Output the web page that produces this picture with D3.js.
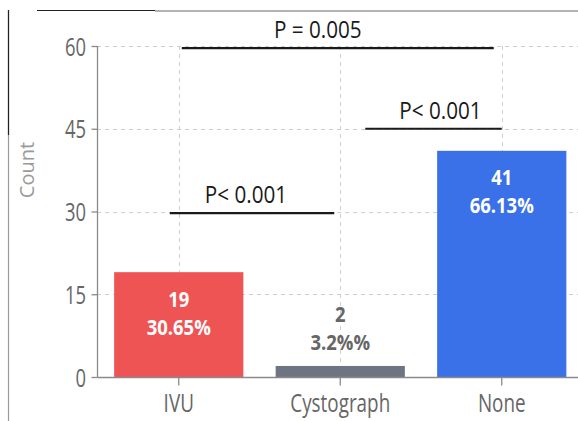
<!DOCTYPE html>
<html>
<head>
<meta charset="utf-8">
<script src="https://cdn.jsdelivr.net/npm/d3@7"></script>
<style>
  body { margin: 0; background: #fff; }
  svg { display: block; font-family: "Open Sans", sans-serif; }
</style>
</head>
<body>
<svg id="chart" width="578" height="421"></svg>
<script>
// data
const categories = ['IVU', 'Cystograph', 'None'];
const counts = [19, 2, 41];
const percents = ['30.65%', '3.2%%', '66.13%'];
const barColors = ['#ef5455', '#6e7482', '#3a70e8'];
const yTicks = [0, 15, 30, 45, 60];

// significance brackets: from category, to category, level, label
const brackets = [
    { from: 'IVU', to: 'Cystograph', level: 29.7, label: 'P< 0.001', dx0: -9, dx1: -6, tx: -6 },
    { from: 'Cystograph', to: 'None', level: 45, label: 'P< 0.001', dx0: 25, dx1: 0, tx: 7 },
    { from: 'IVU', to: 'None', level: 59.6, label: 'P = 0.005', dx0: 3, dx1: -8, tx: -20 }
];

const svg = d3.select('#chart');
const W = 578;

const x = d3.scaleBand().domain(categories).range([98, 582.5])
    .paddingInner(0.2).paddingOuter(0.1);
const y = d3.scaleLinear().domain([0, 60]).range([377, 46]);
const cx = d => x(d) + x.bandwidth() / 2;

// squished text, like the original screenshot
function label(g, txt, px, py, size, sx, opts) {
    opts = opts || {};
    return g.append('text')
        .attr('transform', `translate(${px},${py}) scale(${sx},${opts.sy || 1})`)
        .attr('text-anchor', opts.anchor || 'middle')
        .attr('dominant-baseline', 'central')
        .attr('font-size', size)
        .attr('font-weight', opts.weight || 'normal')
        .attr('fill', opts.fill || '#666')
        .text(txt);
}

// screenshot frame
svg.append('line').attr('x1', 8.5).attr('x2', 8.5).attr('y1', 10).attr('y2', 421)
    .attr('stroke', '#999').attr('stroke-width', 1.2);
svg.append('line').attr('x1', 8.5).attr('x2', 8.5).attr('y1', 10).attr('y2', 135)
    .attr('stroke', '#222').attr('stroke-width', 1.2);
svg.append('line').attr('x1', 155).attr('x2', W).attr('y1', 11).attr('y2', 11)
    .attr('stroke', '#999').attr('stroke-width', 1.5);
svg.append('line').attr('x1', 37).attr('x2', 155).attr('y1', 10.5).attr('y2', 10.5)
    .attr('stroke', '#222').attr('stroke-width', 1.2);

// grid
const grid = svg.append('g');
grid.selectAll('.hg').data(yTicks.filter(d => d > 0)).enter().append('line')
    .attr('x1', 97).attr('x2', W)
    .attr('y1', d => Math.round(y(d)) + 0.5).attr('y2', d => Math.round(y(d)) + 0.5)
    .attr('stroke', '#cfcfcf').attr('stroke-dasharray', '4,4');
grid.selectAll('.vg').data(categories).enter().append('line')
    .attr('x1', d => Math.round(cx(d)) + 0.5).attr('x2', d => Math.round(cx(d)) + 0.5)
    .attr('y1', y(60)).attr('y2', y(0))
    .attr('stroke', '#cfcfcf').attr('stroke-dasharray', '4,4');

// bars
svg.selectAll('.bar').data(categories).enter().append('rect')
    .attr('x', d => x(d))
    .attr('width', x.bandwidth())
    .attr('y', (d, i) => y(counts[i]))
    .attr('height', (d, i) => y(0) - y(counts[i]))
    .attr('fill', (d, i) => barColors[i]);

// axes
const yAxis = svg.append('g').attr('transform', 'translate(97.5,0)')
    .call(d3.axisLeft(y).tickValues(yTicks).tickSize(6).tickFormat(''));
const xAxis = svg.append('g').attr('transform', 'translate(0,377.5)')
    .call(d3.axisBottom(x).tickSize(8).tickFormat(''));
[yAxis, xAxis].forEach(a => {
    a.selectAll('line').attr('stroke', '#8a8a8a').attr('stroke-width', 1.3);
    a.select('.domain').attr('stroke', '#8a8a8a').attr('stroke-width', 1.3);
});
xAxis.select('.domain').attr('d', `M97.5,0H${W}`);
yAxis.select('.domain').attr('d', `M0,${y(60)}V${y(0)}`);

yTicks.forEach(t => label(svg, t, 86, y(t), 23, 0.8, { anchor: 'end', sy: 1.08 }));
categories.forEach(c => label(svg, c, cx(c), 402, 23, 0.82, { sy: 1.08 }));

// y title
svg.append('text')
    .attr('transform', 'translate(26,170) rotate(-90)')
    .attr('text-anchor', 'middle').attr('dominant-baseline', 'central')
    .attr('font-size', 20).attr('fill', '#9a9a9a')
    .text('Count');

// value labels
categories.forEach((c, i) => {
    const top = y(counts[i]);
    const inside = (y(0) - top) > 60;
    const col = inside ? '#fff' : '#666';
    const y0 = inside ? top + 26 : top - 53;
    label(svg, counts[i], cx(c), y0, 22, 0.84, { weight: 'bold', fill: col });
    label(svg, percents[i], cx(c), y0 + 28, 22, 0.84, { weight: 'bold', fill: col });
});

// brackets
brackets.forEach(b => {
    const x0 = cx(b.from) + b.dx0, x1 = cx(b.to) + b.dx1;
    const ly = y(b.level);
    svg.append('line').attr('x1', x0).attr('x2', x1).attr('y1', ly).attr('y2', ly)
        .attr('stroke', '#1a1a1a').attr('stroke-width', 2.2);
    label(svg, b.label, (x0 + x1) / 2 + b.tx, ly - 19, 22, 0.94, { fill: '#1a1a1a', sy: 1.05 });
});
</script>
</body>
</html>
